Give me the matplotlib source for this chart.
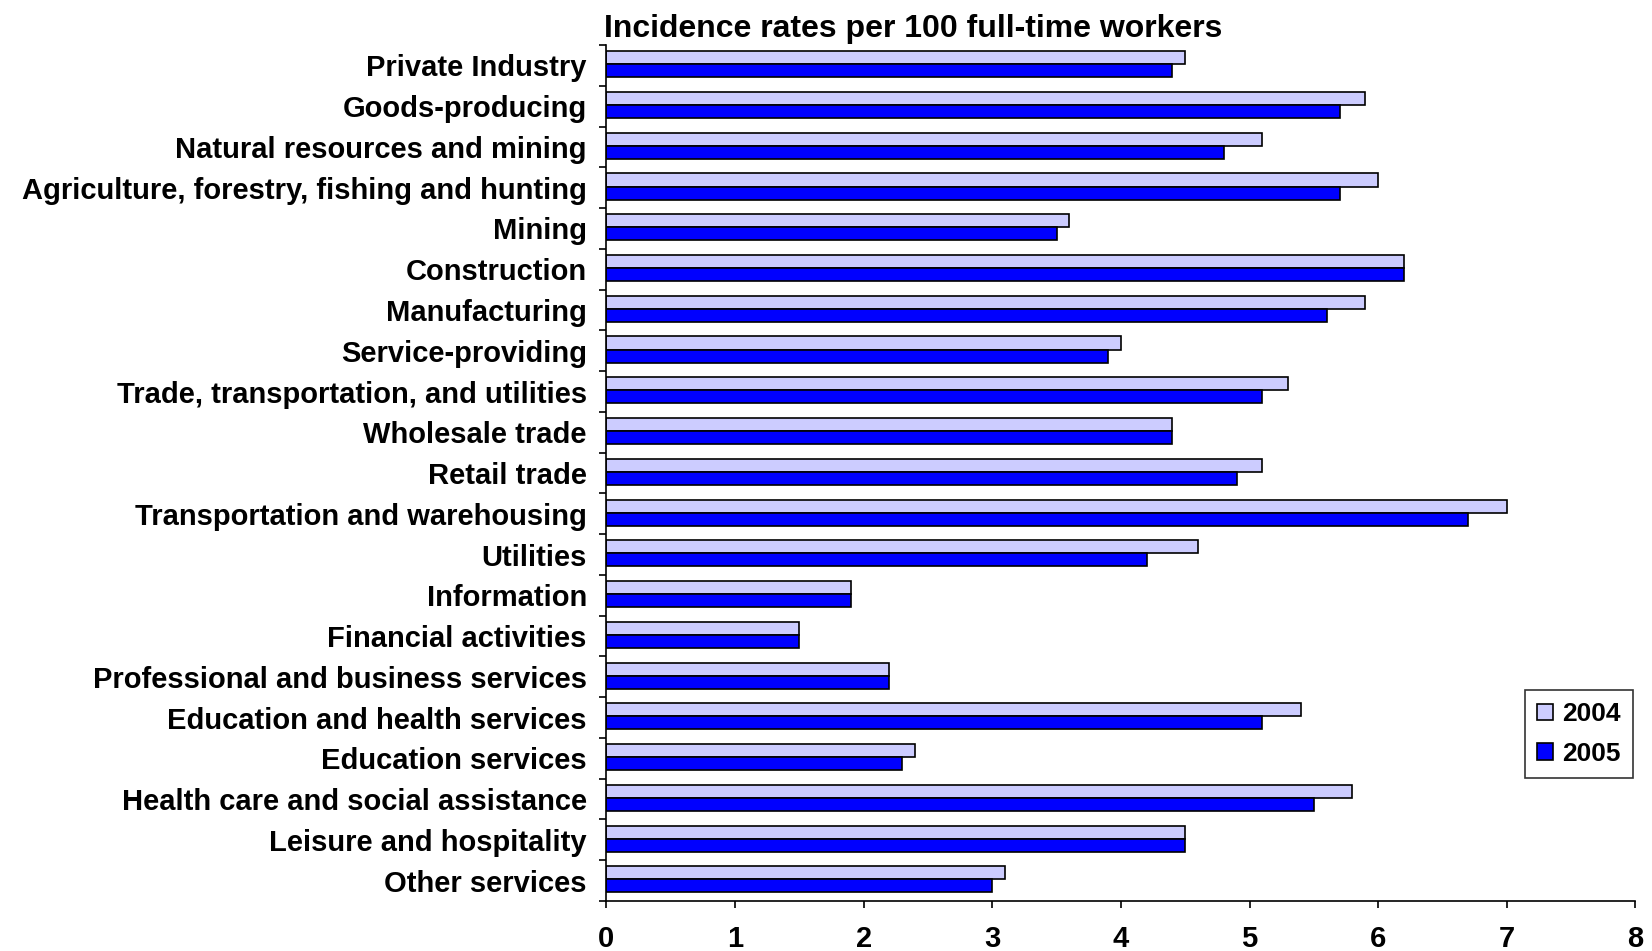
import numpy as np
import matplotlib.pyplot as plt
from matplotlib.ticker import FixedLocator, NullFormatter

# industry groups, top to bottom
industries = [
    'Private Industry',
    'Goods-producing',
    'Natural resources and mining',
    'Agriculture, forestry, fishing and hunting',
    'Mining',
    'Construction',
    'Manufacturing',
    'Service-providing',
    'Trade, transportation, and utilities',
    'Wholesale trade',
    'Retail trade',
    'Transportation and warehousing',
    'Utilities',
    'Information',
    'Financial activities',
    'Professional and business services',
    'Education and health services',
    'Education services',
    'Health care and social assistance',
    'Leisure and hospitality',
    'Other services',
]

# incidence rates per 100 full-time workers
rates_2004 = [4.5, 5.9, 5.1, 6.0, 3.6, 6.2, 5.9, 4.0, 5.3, 4.4, 5.1,
              7.0, 4.6, 1.9, 1.5, 2.2, 5.4, 2.4, 5.8, 4.5, 3.1]
rates_2005 = [4.4, 5.7, 4.8, 5.7, 3.5, 6.2, 5.6, 3.9, 5.1, 4.4, 4.9,
              6.7, 4.2, 1.9, 1.5, 2.2, 5.1, 2.3, 5.5, 4.5, 3.0]

xticks = [0, 1, 2, 3, 4, 5, 6, 7, 8]

plt.rcParams['font.family'] = 'Liberation Sans'
plt.rcParams['font.weight'] = 'bold'

fig = plt.figure(figsize=(16.52, 9.51), dpi=100)
ax = fig.add_axes([0.367, 0.0526, 0.623, 0.9])

n = len(industries)
y = np.arange(n)
h = 0.32

ax.barh(y - h / 2 - 0.03, rates_2004, height=h, color='#ccccff', edgecolor='black',
        linewidth=1.2, label='2004')
ax.barh(y + h / 2 - 0.03, rates_2005, height=h, color='#0000ff', edgecolor='black',
        linewidth=1.2, label='2005')

ax.set_ylim(n - 0.5, -0.5)
ax.set_xlim(0, 8)

ax.set_yticks(y)
ax.set_yticklabels(industries, fontsize=21, fontweight='bold')
ax.yaxis.set_minor_locator(FixedLocator(np.arange(-0.5, n, 1.0)))
ax.yaxis.set_minor_formatter(NullFormatter())
ax.tick_params(axis='y', which='major', length=0, pad=14)
ax.tick_params(axis='y', which='minor', length=5, width=1.2, direction='out')

ax.set_xticks(xticks)
ax.set_xticklabels([str(t) for t in xticks], fontsize=21, fontweight='bold')
ax.tick_params(axis='x', length=5, width=1.2, direction='out', pad=12)

for side in ['top', 'right']:
    ax.spines[side].set_visible(False)
for side in ['left', 'bottom']:
    ax.spines[side].set_linewidth(1.2)

ax.set_title('Incidence rates per 100 full-time workers', loc='left',
             fontsize=23, fontweight='bold', pad=6, x=-0.002)

leg = ax.legend(loc='upper left', bbox_to_anchor=(0.893, 0.246), frameon=True,
                fancybox=False, edgecolor='black', fontsize=19,
                handlelength=0.6, handleheight=0.6, handletextpad=0.35,
                borderpad=0.45, labelspacing=0.6, borderaxespad=0)
leg.get_frame().set_linewidth(1.2)

fig.savefig('out.png', dpi=100)
